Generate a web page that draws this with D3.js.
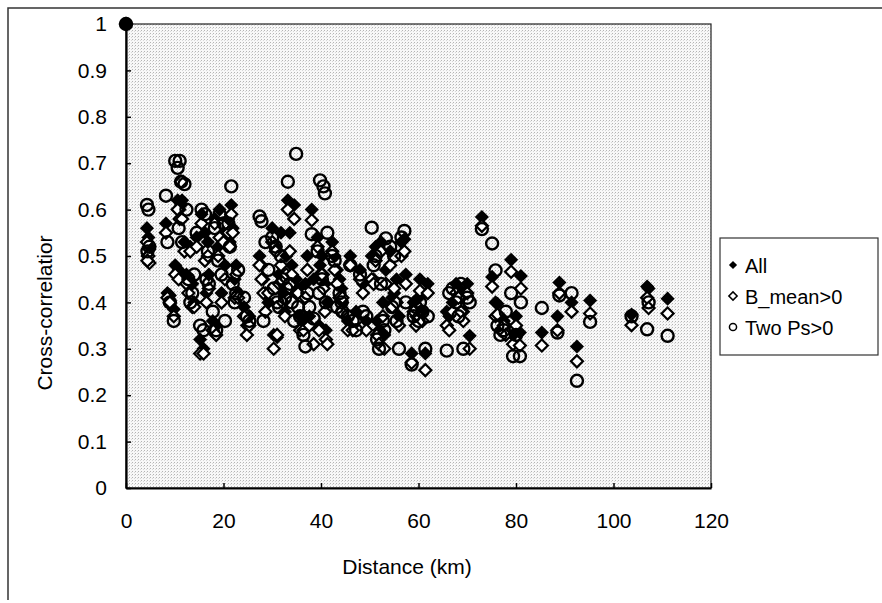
<!DOCTYPE html>
<html>
<head>
<meta charset="utf-8">
<script src="https://cdn.jsdelivr.net/npm/d3@7/dist/d3.min.js"></script>
<style>
body { margin: 0; background: #fff; }
svg { display: block; font-family: "Liberation Sans", Arial, sans-serif; }
</style>
</head>
<body>
<svg id="chart" width="882" height="603"></svg>
<script>
// station-pair distance (km) and the three cross-correlation values per pair
var distance = [0,
  4.3, 4.6, 4.8, 4.4, 8.2, 8.5, 9.0, 9.8, 10.1, 10.6, 11.0, 11.3, 10.8, 11.5,
  12.0, 12.4, 12.8, 13.2, 13.6, 14.0, 14.5, 15.2, 15.5, 15.9, 16.2, 16.5, 16.8, 17.0,
  17.8, 18.2, 18.5, 18.9, 19.2, 19.6, 20.0, 20.3, 21.0, 21.3, 21.6, 21.9, 22.3, 22.6, 23.0,
  24.2, 24.8, 25.3, 27.4, 27.8, 28.2, 28.6, 29.2, 30.0, 30.3, 30.7, 31.0, 31.4, 31.8, 32.2, 32.6, 32.9,
  33.2, 33.6, 34.0, 34.5, 34.9, 35.3, 35.7, 36.4, 36.8, 37.2, 37.6, 38.1, 38.5,
  39.3, 39.8, 40.2, 40.5, 40.8, 41.0, 41.3, 39.6, 42.3, 42.8, 43.3, 43.8, 44.2, 44.4,
  45.5, 46.0, 46.5, 47.2, 48.0, 48.6, 49.3, 50.4, 50.8, 51.2, 51.5, 51.9, 52.3, 52.7, 53.0, 53.3,
  54.2, 54.6, 55.0, 55.5, 56.0, 56.5, 57.1, 57.4, 58.6, 59.0, 59.5, 60.0, 60.3, 60.8, 61.4, 61.9,
  65.8, 66.3, 67.0, 67.7, 68.2, 68.7, 69.2, 70.0, 70.5, 73.0,
  75.1, 75.8, 76.2, 76.8, 77.5, 77.9, 79.0, 79.4, 80.0, 80.8, 81.0,
  85.3, 88.5, 88.9, 91.4, 92.5, 95.2, 103.7, 106.9, 107.2, 111.1];
var allVals = [1,
  0.56, 0.54, 0.52, 0.50, 0.57, 0.42, 0.415, 0.385, 0.48, 0.62, 0.60, 0.61, 0.47, 0.62,
  0.53, 0.46, 0.45, 0.52, 0.44, 0.40, 0.54, 0.32, 0.59, 0.30, 0.55, 0.42, 0.53, 0.46,
  0.36, 0.58, 0.35, 0.52, 0.60, 0.42, 0.55, 0.48, 0.58, 0.53, 0.61, 0.56, 0.45, 0.48, 0.42,
  0.39, 0.35, 0.37, 0.50, 0.48, 0.45, 0.42, 0.40, 0.56, 0.33, 0.52, 0.325, 0.46, 0.55, 0.42, 0.38, 0.50,
  0.62, 0.55, 0.48, 0.61, 0.45, 0.43, 0.37, 0.355, 0.44, 0.50, 0.37, 0.60, 0.45,
  0.54, 0.48, 0.50, 0.46, 0.44, 0.34, 0.40, 0.35, 0.53, 0.50, 0.47, 0.45, 0.43, 0.40,
  0.36, 0.50, 0.35, 0.38, 0.47, 0.44, 0.36, 0.50, 0.45, 0.52, 0.36, 0.34, 0.53, 0.40, 0.33, 0.47,
  0.51, 0.41, 0.42, 0.45, 0.37, 0.53, 0.536, 0.46, 0.29, 0.40, 0.37, 0.41, 0.45, 0.38, 0.29, 0.44,
  0.38, 0.37, 0.40, 0.44, 0.43, 0.41, 0.38, 0.44, 0.328, 0.584,
  0.455, 0.40, 0.397, 0.37, 0.36, 0.35, 0.492, 0.33, 0.37, 0.335, 0.457,
  0.335, 0.37, 0.443, 0.40, 0.305, 0.404, 0.374, 0.434, 0.43, 0.408];
var bMeanVals = [1,
  0.53, 0.50, 0.485, 0.49, 0.55, 0.41, 0.40, 0.37, 0.46, 0.60, 0.58, 0.66, 0.45, 0.58,
  0.51, 0.44, 0.42, 0.51, 0.39, 0.39, 0.52, 0.29, 0.57, 0.29, 0.49, 0.40, 0.50, 0.43,
  0.34, 0.57, 0.33, 0.50, 0.54, 0.40, 0.53, 0.45, 0.55, 0.52, 0.59, 0.55, 0.41, 0.46, 0.41,
  0.37, 0.33, 0.35, 0.48, 0.45, 0.42, 0.38, 0.42, 0.53, 0.30, 0.51, 0.33, 0.44, 0.48, 0.40, 0.37, 0.46,
  0.60, 0.51, 0.46, 0.58, 0.42, 0.42, 0.34, 0.34, 0.41, 0.47, 0.35, 0.577, 0.31,
  0.52, 0.46, 0.46, 0.43, 0.38, 0.32, 0.31, 0.34, 0.51, 0.47, 0.44, 0.41, 0.38, 0.41,
  0.34, 0.48, 0.34, 0.36, 0.45, 0.42, 0.34, 0.45, 0.44, 0.49, 0.33, 0.31, 0.51, 0.37, 0.30, 0.44,
  0.48, 0.39, 0.43, 0.40, 0.35, 0.50, 0.51, 0.44, 0.27, 0.38, 0.35, 0.37, 0.425, 0.36, 0.254, 0.42,
  0.35, 0.34, 0.38, 0.42, 0.41, 0.38, 0.36, 0.42, 0.30, 0.565,
  0.434, 0.37, 0.374, 0.34, 0.35, 0.33, 0.466, 0.31, 0.35, 0.307, 0.43,
  0.307, 0.34, 0.42, 0.38, 0.273, 0.376, 0.351, 0.41, 0.388, 0.376];
var twoPsVals = [1,
  0.61, 0.60, 0.52, 0.51, 0.63, 0.53, 0.40, 0.36, 0.705, 0.69, 0.705, 0.66, 0.56, 0.53,
  0.655, 0.60, 0.45, 0.40, 0.42, 0.46, 0.55, 0.35, 0.60, 0.34, 0.59, 0.45, 0.51, 0.44,
  0.38, 0.56, 0.34, 0.49, 0.59, 0.46, 0.57, 0.36, 0.57, 0.52, 0.65, 0.44, 0.40, 0.42, 0.47,
  0.41, 0.37, 0.36, 0.585, 0.575, 0.36, 0.53, 0.47, 0.54, 0.43, 0.52, 0.40, 0.39, 0.50, 0.45, 0.41, 0.43,
  0.66, 0.44, 0.40, 0.36, 0.72, 0.39, 0.37, 0.33, 0.305, 0.42, 0.39, 0.547, 0.365,
  0.51, 0.663, 0.45, 0.65, 0.635, 0.40, 0.55, 0.42, 0.50, 0.49, 0.39, 0.42, 0.40, 0.38,
  0.37, 0.48, 0.36, 0.34, 0.46, 0.38, 0.37, 0.561, 0.48, 0.50, 0.32, 0.30, 0.44, 0.36, 0.34, 0.538,
  0.52, 0.39, 0.50, 0.36, 0.30, 0.54, 0.554, 0.40, 0.266, 0.37, 0.39, 0.36, 0.40, 0.38, 0.30, 0.37,
  0.296, 0.42, 0.43, 0.40, 0.37, 0.44, 0.30, 0.41, 0.40, 0.558,
  0.527, 0.469, 0.35, 0.33, 0.34, 0.38, 0.42, 0.284, 0.33, 0.284, 0.40,
  0.388, 0.335, 0.415, 0.42, 0.231, 0.358, 0.37, 0.342, 0.40, 0.328];

var xTicks = [0, 20, 40, 60, 80, 100, 120];
var yTicks = [0, 0.1, 0.2, 0.3, 0.4, 0.5, 0.6, 0.7, 0.8, 0.9, 1];
var seriesNames = ["All", "B_mean>0", "Two Ps>0"];

var svg = d3.select("#chart");
var plot = {left: 126, right: 711, top: 24, bottom: 488};

var x = d3.scaleLinear().domain([0, 120]).range([plot.left, plot.right]);
var y = d3.scaleLinear().domain([0, 1]).range([plot.bottom, plot.top]);

// outer frame (only left and top edges show in the scan)
svg.append("path")
  .attr("d", "M8,600V8H882")
  .attr("fill", "none")
  .attr("stroke", "#333")
  .attr("stroke-width", 1.5);

// speckled grey plot background, like the scanned dither
var defs = svg.append("defs");
var pat = defs.append("pattern")
  .attr("id", "speckle")
  .attr("width", 3).attr("height", 3)
  .attr("patternUnits", "userSpaceOnUse");
pat.append("rect").attr("width", 3).attr("height", 3).attr("fill", "#f8f8f8");
pat.append("rect").attr("width", 1).attr("height", 1).attr("fill", "#b4b4b4");
pat.append("rect").attr("x", 2).attr("y", 1).attr("width", 1).attr("height", 1).attr("fill", "#d8d8d8");

svg.append("rect")
  .attr("x", plot.left).attr("y", plot.top)
  .attr("width", plot.right - plot.left)
  .attr("height", plot.bottom - plot.top)
  .attr("fill", "url(#speckle)")
  .attr("stroke", "#222")
  .attr("stroke-width", 1.2);

// axes, ticks pointing inward
var xAxis = d3.axisBottom(x).tickValues(xTicks).tickSizeInner(-5).tickSizeOuter(0).tickPadding(25)
  .tickFormat(d3.format("d"));
var yAxis = d3.axisLeft(y).tickValues(yTicks).tickSizeInner(-5).tickSizeOuter(0).tickPadding(19)
  .tickFormat(function(d) { return d === 0 || d === 1 ? String(d) : d3.format(".1f")(d); });

var gx = svg.append("g")
  .attr("transform", "translate(0," + plot.bottom + ")")
  .call(xAxis);
var gy = svg.append("g")
  .attr("transform", "translate(" + plot.left + ",0)")
  .call(yAxis);

[gx, gy].forEach(function(g) {
  g.select(".domain").attr("stroke", "#000").attr("stroke-width", 2.2);
  g.selectAll(".tick line").attr("stroke", "#000").attr("stroke-width", 1.5);
  g.selectAll(".tick text").attr("fill", "#000").attr("font-size", 21)
    .attr("font-family", "'Liberation Sans', Arial, sans-serif");
});

// axis titles
svg.append("text")
  .attr("x", 407).attr("y", 574)
  .attr("text-anchor", "middle")
  .attr("font-size", 21)
  .text("Distance (km)");

svg.append("text")
  .attr("transform", "translate(52,313) rotate(-90)")
  .attr("text-anchor", "middle")
  .attr("font-size", 21)
  .text("Cross-correlatior");

// markers
var pts = distance.map(function(d, i) {
  return {d: d, all: allVals[i], b: bMeanVals[i], two: twoPsVals[i]};
});

var marks = svg.append("g");

marks.selectAll(".all")
  .data(pts)
  .enter().append("path")
  .attr("class", "all")
  .attr("d", d3.symbol().type(d3.symbolSquare).size(100))
  .attr("transform", function(p) { return "translate(" + x(p.d) + "," + y(p.all) + ") rotate(45)"; })
  .attr("fill", "#000");

marks.selectAll(".bmean")
  .data(pts)
  .enter().append("path")
  .attr("class", "bmean")
  .attr("d", d3.symbol().type(d3.symbolSquare).size(72))
  .attr("transform", function(p) { return "translate(" + x(p.d) + "," + y(p.b) + ") rotate(45)"; })
  .attr("fill", "#fff")
  .attr("stroke", "#000")
  .attr("stroke-width", 2.2);

marks.selectAll(".two")
  .data(pts)
  .enter().append("circle")
  .attr("class", "two")
  .attr("cx", function(p) { return x(p.d); })
  .attr("cy", function(p) { return y(p.two); })
  .attr("r", 6)
  .attr("fill", "none")
  .attr("stroke", "#000")
  .attr("stroke-width", 2.4);

// the point at zero distance reads as a solid dot
marks.append("circle")
  .attr("cx", x(0)).attr("cy", y(1)).attr("r", 6.5).attr("fill", "#000");

// legend
var legend = svg.append("g").attr("transform", "translate(720,238)");
legend.append("rect")
  .attr("width", 158).attr("height", 117)
  .attr("fill", "#fff")
  .attr("stroke", "#333")
  .attr("stroke-width", 1.2);

var rows = legend.selectAll(".row")
  .data(seriesNames)
  .enter().append("g")
  .attr("transform", function(d, i) { return "translate(0," + (27 + i * 31) + ")"; });

rows.append("path")
  .attr("d", function(d, i) {
    return i === 2 ? d3.symbol().type(d3.symbolCircle).size(40)() : d3.symbol().type(d3.symbolSquare).size(34)();
  })
  .attr("transform", function(d, i) { return "translate(13,0)" + (i === 2 ? "" : " rotate(45)"); })
  .attr("fill", function(d, i) { return i === 0 ? "#000" : "#fff"; })
  .attr("stroke", "#000")
  .attr("stroke-width", function(d, i) { return i === 0 ? 0 : 1.5; });

rows.append("text")
  .attr("x", 25).attr("y", 7.5)
  .attr("font-size", 20)
  .text(function(d) { return d; });
</script>
</body>
</html>
